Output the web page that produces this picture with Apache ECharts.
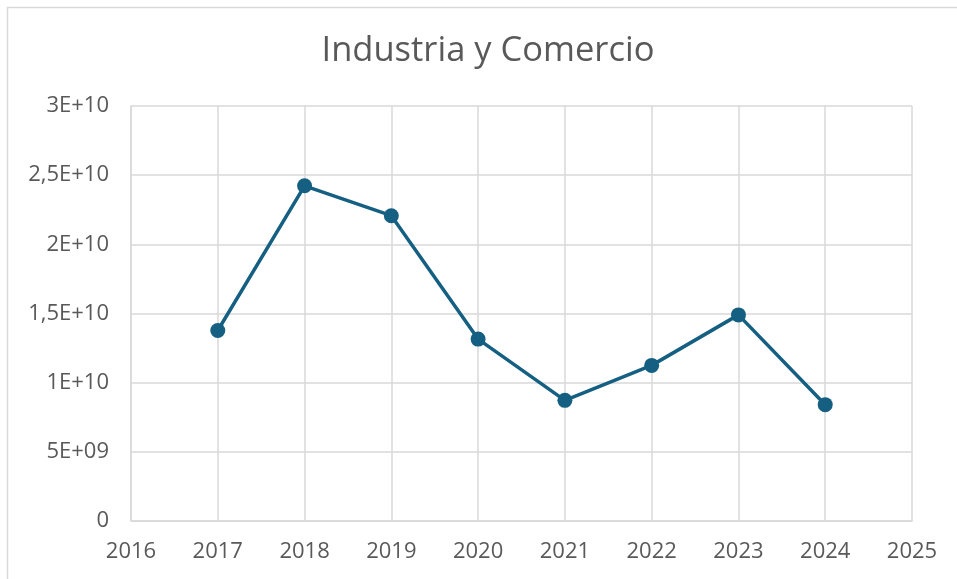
<!DOCTYPE html>
<html>
<head>
<meta charset="utf-8">
<script src="https://cdn.jsdelivr.net/npm/echarts@6/dist/echarts.min.js"></script>
<style>
html,body{margin:0;padding:0;background:#fff;}
#chart{width:957px;height:579px;}
</style>
</head>
<body>
<div id="chart"></div>
<script>
const titleText = "Industria y Comercio";
const years = [2017, 2018, 2019, 2020, 2021, 2022, 2023, 2024];
const values = [1.377e10, 2.423e10, 2.207e10, 1.315e10, 8.72e9, 1.125e10, 1.49e10, 8.41e9];
const yTickValues = [0, 5e9, 1e10, 1.5e10, 2e10, 2.5e10, 3e10];
const yTickLabels = ["0", "5E+09", "1E+10", "1,5E+10", "2E+10", "2,5E+10", "3E+10"];
const xMin = 2016, xMax = 2025;

const font = "'Open Sans', 'Liberation Sans', sans-serif";
const textColor = "#595959";
const chart = echarts.init(document.getElementById('chart'), null, {renderer: 'canvas'});
chart.setOption({
  animation: false,
  backgroundColor: '#ffffff',
  graphic: [{
    type: 'rect', silent: true, z: -1,
    shape: {x: 7.5, y: 7.5, width: 1200, height: 1200},
    style: {fill: 'none', stroke: '#d9d9d9', lineWidth: 1.5}
  }],
  title: {
    text: titleText,
    left: 483, top: 29, textAlign: 'center',
    textStyle: {fontFamily: font, fontSize: 34.5, fontWeight: 'normal', color: textColor}
  },
  grid: {left: 131, right: 45, top: 106, bottom: 58, containLabel: false},
  xAxis: {
    type: 'value', min: xMin, max: xMax, interval: 1,
    axisLine: {show: true, lineStyle: {color: '#d9d9d9', width: 1.5}},
    axisTick: {show: false},
    splitLine: {show: true, lineStyle: {color: '#d9d9d9', width: 1.5}},
    axisLabel: {fontFamily: font, fontSize: 22, color: textColor, margin: 20,
      formatter: v => String(v)}
  },
  yAxis: {
    type: 'value', min: 0, max: 3e10, interval: 5e9,
    axisLine: {show: true, lineStyle: {color: '#d9d9d9', width: 1.5}},
    axisTick: {show: false},
    splitLine: {show: true, lineStyle: {color: '#d9d9d9', width: 1.5}},
    axisLabel: {fontFamily: font, fontSize: 22, color: textColor, margin: 22,
      formatter: v => { const i = yTickValues.findIndex(t => Math.abs(t - v) < 1); return i >= 0 ? yTickLabels[i] : ''; }}
  },
  series: [{
    type: 'line',
    data: years.map((y, i) => [y, values[i]]),
    symbol: 'circle', symbolSize: 15,
    lineStyle: {color: '#156082', width: 3.5},
    itemStyle: {color: '#156082'}
  }]
});
</script>
</body>
</html>
